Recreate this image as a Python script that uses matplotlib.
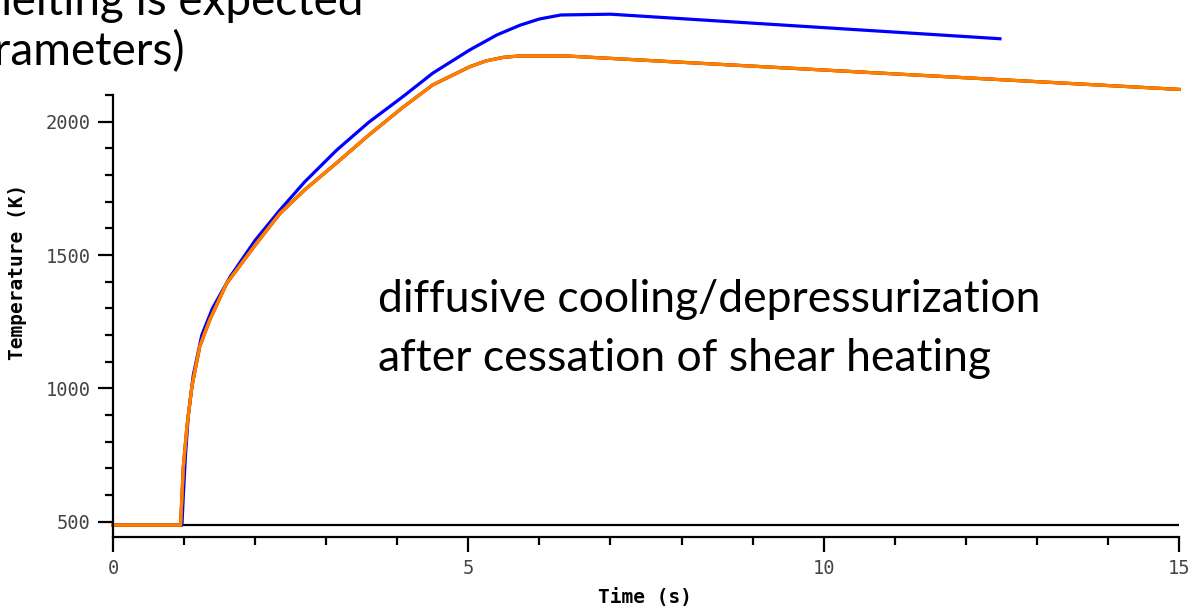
import numpy as np
import matplotlib
matplotlib.use("Agg")
import matplotlib.pyplot as plt
from matplotlib.ticker import MultipleLocator

# values (time in s, temperature in K)
orange_t = [0.0, 0.95, 0.96, 0.99, 1.04, 1.11, 1.22, 1.36, 1.6, 2.02, 2.35, 2.7,
            3.15, 3.6, 4.08, 4.5, 5.02, 5.25, 5.49, 5.7, 6.4, 15.0]
orange_T = [487, 487, 540, 706, 856, 1006, 1156, 1256, 1394, 1544, 1656, 1745,
            1846, 1950, 2054, 2138, 2206, 2228, 2241, 2246, 2246, 2121]

blue_t = [0.0, 0.97, 0.99, 1.02, 1.06, 1.13, 1.25, 1.4, 1.65, 2.0, 2.35, 2.7,
          3.15, 3.6, 4.08, 4.5, 5.02, 5.4, 5.73, 6.0, 6.3, 7.0, 12.48]
blue_T = [487, 487, 600, 750, 900, 1050, 1200, 1300, 1419, 1555, 1669, 1775,
          1894, 1998, 2094, 2182, 2269, 2325, 2362, 2385, 2400, 2403, 2311]

base_t = [0.97, 15.0]
base_T = [487, 487]

note_lines = ["diffusive cooling/depressurization", "after cessation of shear heating"]
slide_lines = ["melting is expected", "parameters)"]

W, H = 1191, 613
fig = plt.figure(figsize=(W / 100, H / 100), dpi=100)
ax = fig.add_axes([113 / W, 1 - 537 / H, (1179 - 113) / W, (537 - 95) / H])

ax.plot(base_t, base_T, color="black", lw=1.6, solid_capstyle="butt")
ax.plot(blue_t, blue_T, color="#0000ff", lw=2.3, clip_on=False)
# green and red sit under the orange curve
ax.plot(orange_t, orange_T, color="#22dd00", lw=2.3, clip_on=False)
ax.plot(orange_t, orange_T, color="#ff0000", lw=2.3, clip_on=False)
ax.plot(orange_t, orange_T, color="#ff8000", lw=2.3, clip_on=False)

ax.set_xlim(0, 15)
ax.set_ylim(442.6, 2100)
ax.xaxis.set_major_locator(MultipleLocator(5))
ax.xaxis.set_minor_locator(MultipleLocator(1))
ax.yaxis.set_major_locator(MultipleLocator(500))
ax.yaxis.set_minor_locator(MultipleLocator(100))

for s in ["top", "right"]:
    ax.spines[s].set_visible(False)
for s in ["left", "bottom"]:
    ax.spines[s].set_linewidth(1.6)

ax.tick_params(which="major", length=11, width=1.6, color="black",
               labelsize=13.5, labelcolor="#444444", pad=5)
ax.tick_params(which="minor", length=6, width=1.6, color="black")
for lab in ax.get_xticklabels() + ax.get_yticklabels():
    lab.set_fontfamily("DejaVu Sans Mono")

fig.text(645 / W, 1 - 597 / H, "Time (s)", ha="center", va="center",
         fontsize=14, fontweight="bold", family="DejaVu Sans Mono")
fig.text(18 / W, 1 - 272 / H, "Temperature (K)", ha="center", va="center",
         rotation=90, fontsize=14, fontweight="bold", family="DejaVu Sans Mono")

fig.text(378 / W, 1 - 312 / H, note_lines[0], ha="left", va="baseline",
         fontsize=32, family="Lato")
fig.text(378 / W, 1 - 371 / H, note_lines[1], ha="left", va="baseline",
         fontsize=32, family="Lato")

# slide text cut by the top and left edges, as in the reference
fig.text(363 / W, 1 - 15 / H, slide_lines[0], ha="right", va="baseline",
         fontsize=33, family="Lato")
fig.text(185 / W, 1 - 65 / H, slide_lines[1], ha="right", va="baseline",
         fontsize=33, family="Lato")

fig.savefig("out.png", dpi=100)
